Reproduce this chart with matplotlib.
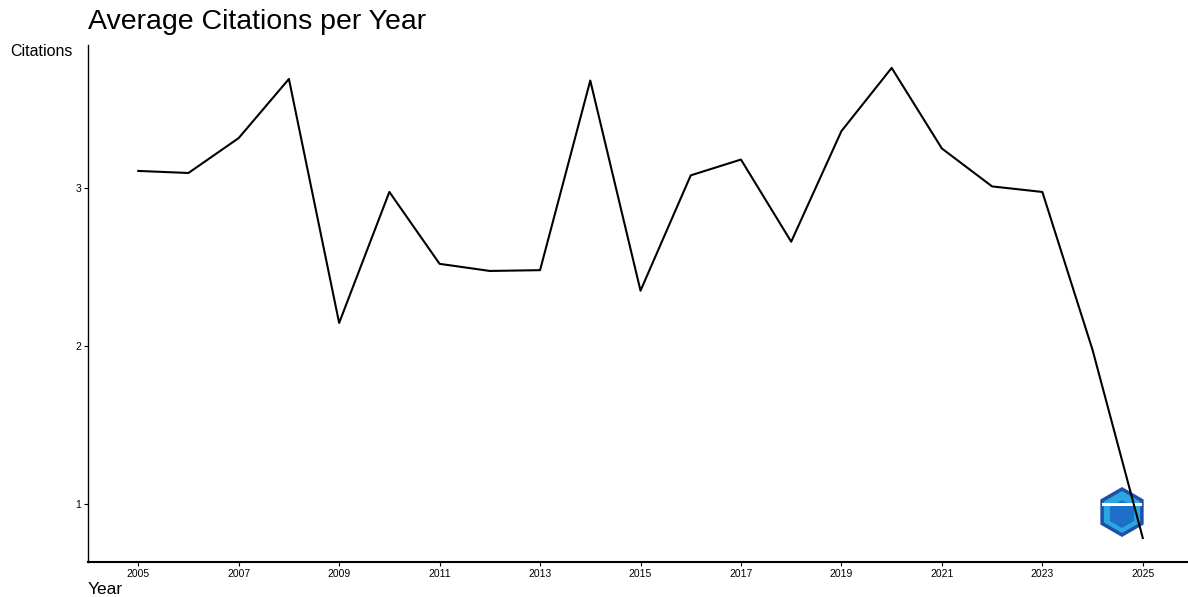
import matplotlib
matplotlib.use("Agg")
import matplotlib.pyplot as plt
from matplotlib.patches import RegularPolygon, Rectangle

plt.rcParams['font.family'] = ['Liberation Sans', 'DejaVu Sans']

years = list(range(2005, 2026))
citations = [3.108, 3.095, 3.316, 3.69, 2.146, 2.975, 2.52, 2.475, 2.48, 3.68,
             2.35, 3.08, 3.18, 2.66, 3.36, 3.76, 3.25, 3.01, 2.975, 1.975, 0.785]
xticks = list(range(2005, 2026, 2))
yticks = [1, 2, 3]

W, H = 1188, 597
fig = plt.figure(figsize=(W / 100, H / 100), dpi=100)
ax = fig.add_axes([88 / W, 35 / H, 1100 / W, 517 / H])

ax.plot(years, citations, color='black', linewidth=1.5, zorder=3)

ax.set_xlim(2004.0, 2025.9)
ax.set_ylim(0.633, 3.905)
ax.set_xticks(xticks)
ax.set_xticklabels([str(x) for x in xticks], fontsize=7.5)
ax.set_yticks(yticks)
ax.set_yticklabels([str(y) for y in yticks], fontsize=7.5)
ax.tick_params(length=3, width=0.8, pad=2)

for s in ['top', 'right']:
    ax.spines[s].set_visible(False)
ax.spines['left'].set_linewidth(1.0)
ax.spines['bottom'].set_linewidth(1.5)

fig.text(88 / W, 1 - 22 / H, 'Average Citations per Year', fontsize=20.5,
         ha='left', va='center')
fig.text(10 / W, 1 - 52 / H, 'Citations', fontsize=11.5, ha='left', va='center')
fig.text(88 / W, 1 - 589 / H, 'Year', fontsize=12.5, ha='left', va='center')

# logo (decorative), drawn beneath the line
hexa = RegularPolygon((1122, H - 512), numVertices=6, radius=23,
                      orientation=0, facecolor='#2aa7e0', edgecolor='#1f4fa8',
                      linewidth=2.5, transform=None, zorder=2, clip_on=False)
ax.add_patch(hexa)
inner = RegularPolygon((1122, H - 514), numVertices=6, radius=14,
                       orientation=0, facecolor='#1e6fc9', edgecolor='none',
                       transform=None, zorder=2, clip_on=False)
ax.add_patch(inner)
bar = Rectangle((1102, H - 506), 40, 3, facecolor='white', edgecolor='none',
                transform=None, zorder=2, clip_on=False)
ax.add_patch(bar)

fig.savefig('out.png', dpi=100)
